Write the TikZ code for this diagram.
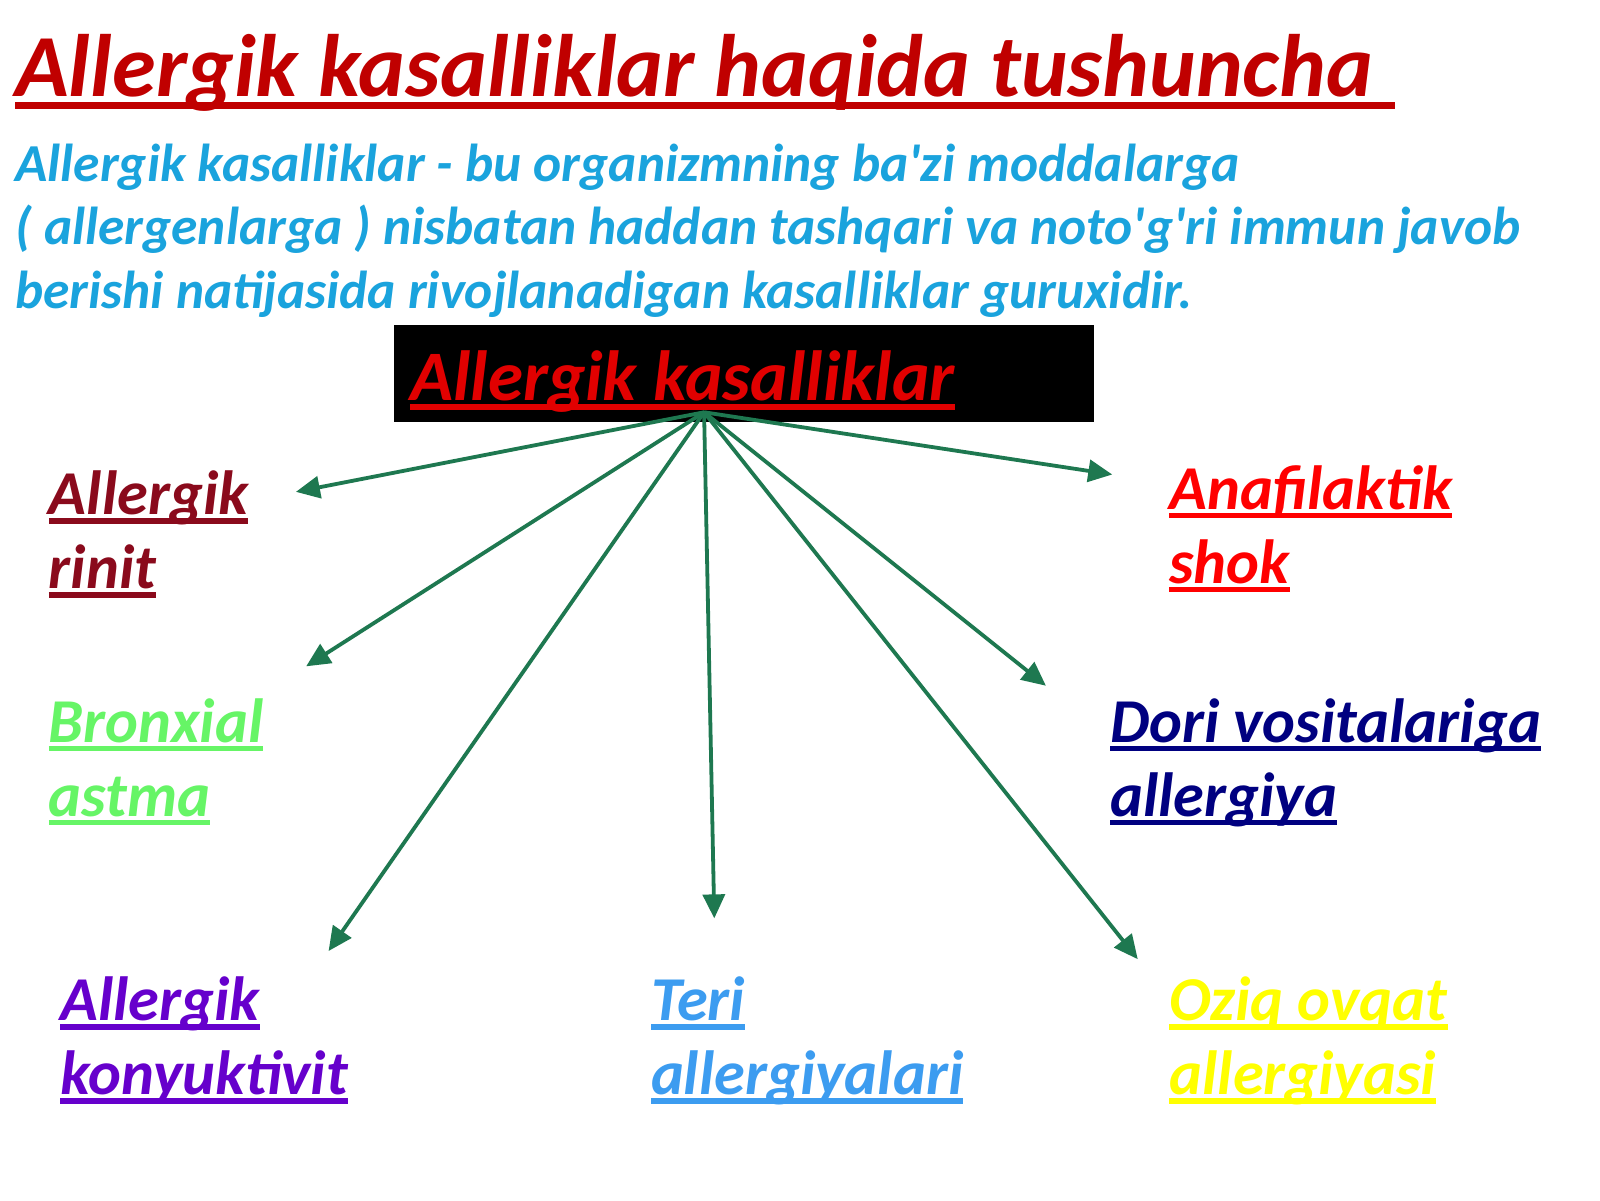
\documentclass[tikz,border=0pt]{standalone}
\usepackage{fontspec}
\setmainfont{Carlito}
\usetikzlibrary{arrows.meta}
\definecolor{titlered}{HTML}{C00000}
\definecolor{bodyblue}{HTML}{1AA3DD}
\definecolor{boxred}{HTML}{E10000}
\definecolor{rinitc}{HTML}{8A0A1C}
\definecolor{bronxc}{HTML}{66F566}
\definecolor{konc}{HTML}{6600CC}
\definecolor{teric}{HTML}{3C9CF0}
\definecolor{oziqc}{HTML}{FFFF00}
\definecolor{doric}{HTML}{000080}
\definecolor{anafc}{HTML}{FF0000}
\definecolor{arrowgreen}{RGB}{30,120,80}
\newlength\ulw
\newcommand\myul[2][0pt]{\settowidth\ulw{#2}\addtolength\ulw{#1}\rlap{\rule[-0.14em]{\ulw}{0.085em}}#2}
\newcommand\apos{\textquotesingle}
\begin{document}
\begin{tikzpicture}[x=0.5102pt,y=-0.5102pt,
  txt/.style={inner sep=0pt, outer sep=0pt, anchor=base west, align=left},
  lab/.style={txt, font=\fontsize{31.2}{37}\selectfont\bfseries\itshape},
  conn/.style={draw=arrowgreen, line width=1.9pt, -{Triangle[length=12pt,width=11pt]}}]
\useasboundingbox[fill=white] (0,0) rectangle (1568,1176);
\node[txt, text=titlered, font=\fontsize{44.3}{50}\selectfont\bfseries\itshape] (title) at (15,95) {\myul[0.25em]{Allergik kasalliklar haqida tushuncha}};
\node[txt, text=bodyblue, font=\fontsize{26.7}{31.6}\selectfont\bfseries\itshape] (body) at (15,302) {Allergik kasalliklar - bu organizmning ba\apos zi moddalarga\\( allergenlarga ) nisbatan haddan tashqari va noto\apos g\apos ri immun javob\\berishi natijasida rivojlanadigan kasalliklar guruxidir.};
\path[fill=black] (386,318) rectangle (1072,414);
\node[txt, text=boxred, font=\fontsize{35.5}{40}\selectfont\bfseries\itshape] (main) at (402,392) {\myul{Allergik kasalliklar}};
\coordinate (hub) at (690,404);
\node[lab, text=rinitc] (rinit) at (48,577) {\myul{Allergik}\\\myul{rinit}};
\node[lab, text=anafc] (anaf) at (1146,572) {\myul{Anafilaktik}\\\myul{shok}};
\node[lab, text=bronxc] (bronx) at (48,800) {\myul{Bronxial}\\\myul{astma}};
\node[lab, text=doric] (dori) at (1088,800) {\myul{Dori vositalariga}\\\myul{allergiya}};
\node[lab, text=konc] (kon) at (59,1073) {\myul{Allergik}\\\myul{konyuktivit}};
\node[lab, text=teric] (teri) at (638,1073) {\myul{Teri}\\\myul{allergiyalari}};
\node[lab, text=oziqc] (oziq) at (1146,1073) {\myul{Oziq ovqat}\\\myul{allergiyasi}};
\coordinate (t1) at (290,482);
\coordinate (t2) at (300,653);
\coordinate (t3) at (322,932);
\coordinate (t4) at (700,900);
\coordinate (t5) at (1115,940);
\coordinate (t6) at (1025,672);
\coordinate (t7) at (1090,465);
\foreach \t in {t1,t2,t3,t4,t5,t6,t7} \draw[conn] (hub) -- (\t);
\end{tikzpicture}
\end{document}
